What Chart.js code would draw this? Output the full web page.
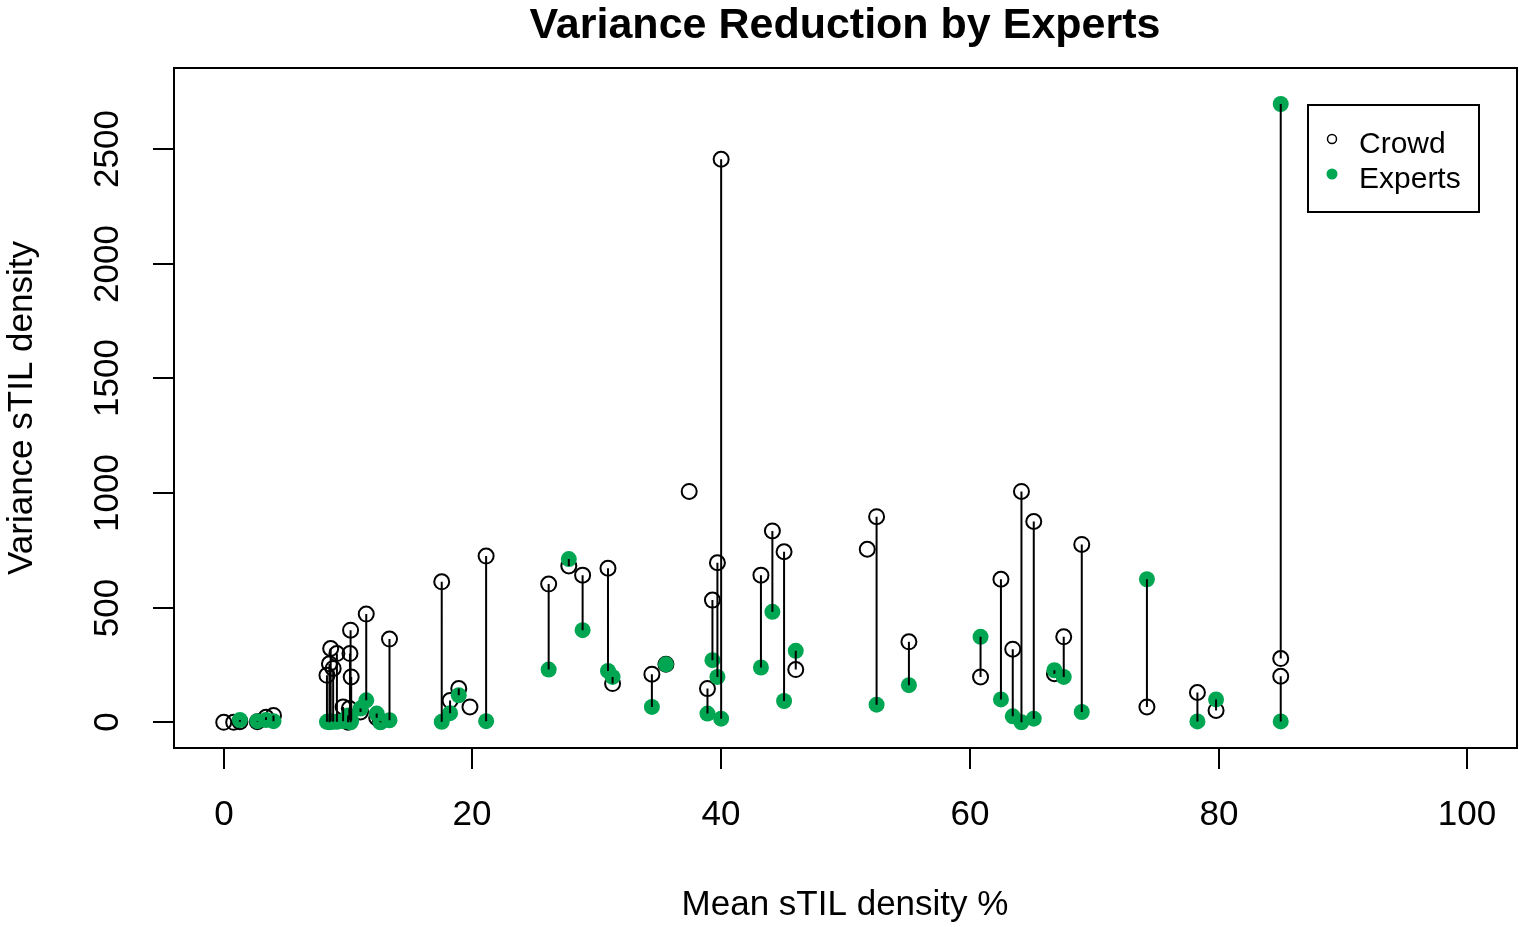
<!DOCTYPE html>
<html>
<head>
<meta charset="utf-8">
<script src="https://cdn.jsdelivr.net/npm/chart.js@4"></script>
<style>
  html, body { margin: 0; padding: 0; background: #fff; overflow: hidden; }
  canvas { display: block; }
</style>
</head>
<body>
<canvas id="chart" width="1519" height="927"></canvas>
<script>
// mean sTIL density % for each case
const meanDensity = [
    0.0, 0.8, 1.3, 2.7, 3.4, 4.0,
    8.3, 8.5, 8.6, 8.8, 9.1, 9.6, 10.0, 10.1, 10.2, 10.15, 10.25, 11.0, 11.46, 12.3, 12.6, 13.33,
    17.53, 18.2, 18.9, 19.8, 21.1,
    26.13, 27.75, 28.86, 30.9, 31.27, 34.43, 35.56, 37.43, 38.9, 39.3, 39.7, 40.0,
    43.2, 44.12, 45.06, 46.0, 51.75, 52.5, 55.1,
    60.86, 62.5, 63.45, 64.15, 65.14, 66.8, 67.55, 69.0, 74.24, 78.3, 79.8, 85.0, 85.0
];
// variance of the crowd scores
const crowdVariance = [
    0, 0, 3, 2, 22, 30,
    205, 255, 322, 235, 300, 67, 0, 60, 402, 300, 198, 45, 472, 20, 5, 363,
    613, 95, 147, 67, 725,
    603, 682, 642, 672, 169, 210, 253, 1007, 147, 533, 696, 2456,
    642, 835, 744, 230, 755, 897, 351,
    198, 624, 319, 1007, 876, 212, 373, 776, 67, 130, 52, 278, 201
];
// variance of the expert scores (null = no expert value)
const expertVariance = [
    null, null, 10, 5, 10, 5,
    2, 0, 5, 3, 2, 5, 30, 10, 0, 15, 8, 60, 96, 38, 0, 9,
    2, 40, 118, null, 5,
    230, 712, 402, 224, 198, 67, 253, null, 38, 271, 198, 16,
    239, 482, 93, 312, null, 77, 162,
    373, 100, 26, 0, 16, 227, 198, 45, 624, 4, 100, 2697, 4
];
const xTicks = [0, 20, 40, 60, 80, 100];
const yTicks = [0, 500, 1000, 1500, 2000, 2500];

const GREEN = '#00a651';
const FONT = '"Liberation Sans", Arial, sans-serif';

const crowdPts = meanDensity.map((x, i) => ({ x, y: crowdVariance[i] }));
const expertPts = meanDensity
    .map((x, i) => ({ x, y: expertVariance[i] }))
    .filter(p => p.y !== null);

// segments from crowd to expert, broken by nulls
const segPts = [];
meanDensity.forEach((x, i) => {
    if (expertVariance[i] === null) return;
    segPts.push({ x, y: crowdVariance[i] }, { x, y: expertVariance[i] }, { x, y: null });
});

// R-style box, axes, titles and legend
const basePlot = {
    id: 'basePlot',
    afterDraw(chart) {
        const { ctx, chartArea: a, scales: { x, y } } = chart;
        ctx.save();
        ctx.strokeStyle = '#000';
        ctx.fillStyle = '#000';
        ctx.lineWidth = 2;
        ctx.strokeRect(a.left, a.top, a.right - a.left, a.bottom - a.top);

        ctx.font = '35px ' + FONT;
        ctx.textAlign = 'center';
        ctx.textBaseline = 'middle';
        xTicks.forEach(v => {
            const px = Math.round(x.getPixelForValue(v));
            ctx.beginPath();
            ctx.moveTo(px, a.bottom);
            ctx.lineTo(px, a.bottom + 21);
            ctx.stroke();
            ctx.fillText(String(v), px, 815);
        });
        yTicks.forEach(v => {
            const py = Math.round(y.getPixelForValue(v));
            ctx.beginPath();
            ctx.moveTo(a.left, py);
            ctx.lineTo(a.left - 21, py);
            ctx.stroke();
            ctx.save();
            ctx.translate(108, py);
            ctx.rotate(-Math.PI / 2);
            ctx.fillText(String(v), 0, 0);
            ctx.restore();
        });

        // axis titles
        ctx.fillText('Mean sTIL density %', 845, 905);
        ctx.save();
        ctx.translate(22, 408);
        ctx.rotate(-Math.PI / 2);
        ctx.fillText('Variance sTIL density', 0, 0);
        ctx.restore();

        // main title
        ctx.font = 'bold 43px ' + FONT;
        ctx.fillText('Variance Reduction by Experts', 845, 26);

        // legend
        ctx.lineWidth = 2;
        ctx.strokeRect(1308, 105, 171, 107);
        ctx.font = '30px ' + FONT;
        ctx.textAlign = 'left';
        ctx.fillText('Crowd', 1359, 145);
        ctx.fillText('Experts', 1359, 180);
        ctx.lineWidth = 1.5;
        ctx.beginPath();
        ctx.arc(1332, 139, 4.5, 0, Math.PI * 2);
        ctx.stroke();
        ctx.fillStyle = GREEN;
        ctx.beginPath();
        ctx.arc(1332, 174, 5.5, 0, Math.PI * 2);
        ctx.fill();
        ctx.restore();
    }
};

new Chart(document.getElementById('chart'), {
    type: 'scatter',
    data: {
        datasets: [
            {
                label: 'Crowd',
                data: crowdPts,
                pointStyle: 'circle',
                pointRadius: 7.5,
                pointBorderWidth: 2,
                pointBorderColor: '#000',
                pointBackgroundColor: 'rgba(0,0,0,0)',
                order: 2
            },
            {
                label: 'Experts',
                data: expertPts,
                pointStyle: 'circle',
                pointRadius: 8,
                pointBorderWidth: 0,
                pointBackgroundColor: GREEN,
                order: 1
            },
            {
                label: 'segments',
                data: segPts,
                showLine: true,
                spanGaps: false,
                borderColor: '#000',
                borderWidth: 2,
                pointRadius: 0,
                order: 0
            }
        ]
    },
    options: {
        responsive: false,
        animation: false,
        devicePixelRatio: 1,
        layout: { autoPadding: false, padding: { left: 174, right: 2, top: 68, bottom: 179 } },
        plugins: {
            legend: { display: false },
            title: { display: false },
            tooltip: { enabled: false }
        },
        scales: {
            x: { type: 'linear', min: -4, max: 104, display: false },
            y: { type: 'linear', min: -112, max: 2854, display: false }
        }
    },
    plugins: [basePlot]
});
</script>
</body>
</html>
